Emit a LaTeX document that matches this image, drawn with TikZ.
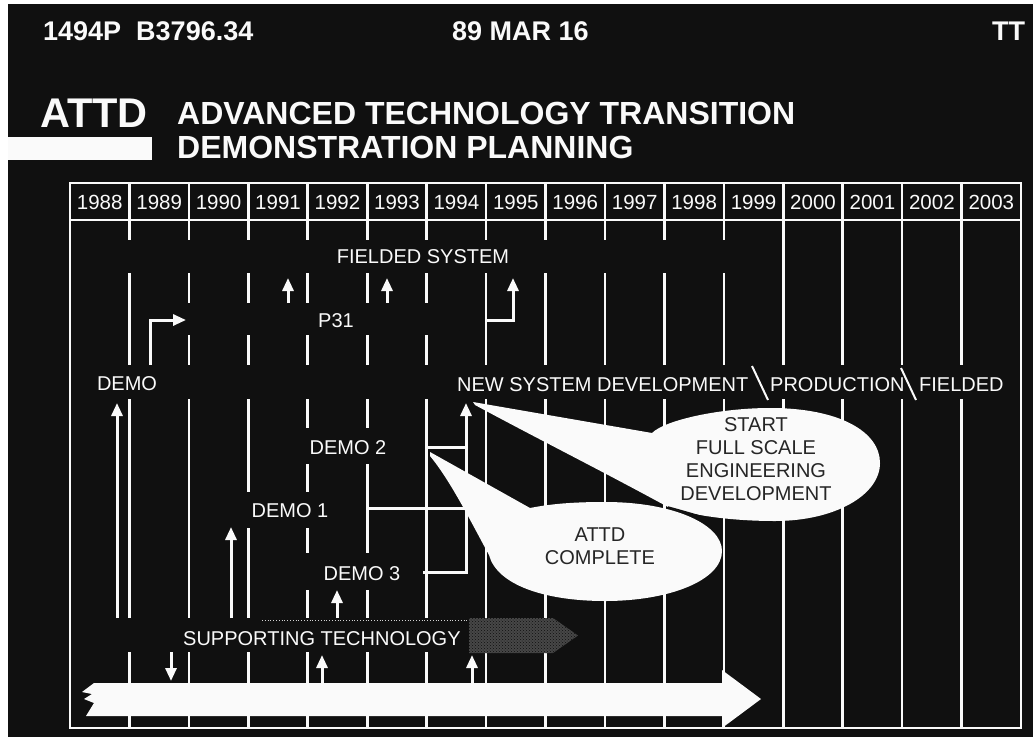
\documentclass[tikz,border=0pt]{standalone}
\usepackage{fontspec}
\setmainfont{Liberation Sans}
\usetikzlibrary{arrows.meta,patterns}
\definecolor{bg}{RGB}{16,16,16}
\definecolor{ink}{RGB}{250,250,250}
\begin{document}
\begin{tikzpicture}[x=1pt,y=-1pt,
  gridline/.style={ink,line width=2.6pt},
  mask/.style={fill=bg,draw=none},
  lbl/.style={text=ink,font=\fontsize{20}{24}\selectfont,inner sep=0pt,anchor=base},
  lblw/.style={lbl,anchor=base west},
  yr/.style={text=ink,font=\fontsize{20.5}{24}\selectfont,inner sep=0pt,anchor=base},
  hdr/.style={text=ink,font=\bfseries\fontsize{27}{30}\selectfont,inner sep=0pt,anchor=base west},
  ttl/.style={text=ink,font=\bfseries\fontsize{32}{35}\selectfont,inner sep=0pt,anchor=base west},
  arr/.style={ink,line width=3pt,-{Triangle[width=11pt,length=13pt]}},
  bar/.style={ink,line width=3pt},
  bubtxt/.style={text=black!85,font=\fontsize{20}{23}\selectfont,align=center,inner sep=0pt,anchor=north},
]
\useasboundingbox (0,0) rectangle (1033,737);
\fill[white] (0,0) rectangle (1033,737);
\fill[bg] (8,4) rectangle (1033,737);
\fill[ink] (8,137) rectangle (152,160);

% header texts
\node[hdr] (code) at (43,40) {1494P\ \ B3796.34};
\node[hdr] (date) at (452,40) {89 MAR 16};
\node[hdr] (tt) at (992,40) {TT};
\node[text=ink,font=\bfseries\fontsize{41.5}{45}\selectfont,inner sep=0pt,anchor=base west] (attd) at (40,127) {ATTD};
\node[ttl] (t1) at (177,124) {ADVANCED TECHNOLOGY TRANSITION};
\node[ttl] (t2) at (177,158) {DEMONSTRATION PLANNING};

% grid
\draw[gridline] (70,183) rectangle (1021,728);
\draw[gridline] (70,220) -- (1021,220);
\foreach \k in {1,...,15} \draw[gridline] ({70+59.44*\k},183) -- ({70+59.44*\k},728);
\foreach \y [count=\i from 0] in {1988,...,2003}
  \node[yr] (y\y) at ({70+59.44*(\i+0.5)},209) {\y};

% masks (bands behind labels)
\fill[mask] (72,240) rectangle (742,273);
\fill[mask] (140,303) rectangle (472,335);
\fill[mask] (72,365) rectangle (1019.5,399);
\fill[mask] (72,618) rectangle (470,652);
\fill[mask] (298,428) rectangle (396,464);
\fill[mask] (240,492) rectangle (335,528);
\fill[mask] (300,553) rectangle (410,590);

% labels
\node[lbl] (fs) at (423,263) {FIELDED SYSTEM};
\node[lbl] (p31) at (336,327) {P31};
\node[lbl] (demo) at (127,390) {DEMO};
\node[lblw] (nsd) at (457,391) {NEW SYSTEM DEVELOPMENT};
\node[lblw] (prod) at (770,391) {PRODUCTION};
\node[lblw] (fld) at (919,391) {FIELDED};
\draw[ink,line width=2pt] (752,366) -- (768,400);
\draw[ink,line width=2pt] (901,368) -- (916,400);
\node[lbl] (d2) at (348,454) {DEMO 2};
\node[lbl] (d1) at (290,517) {DEMO 1};
\node[lbl] (d3) at (362,580) {DEMO 3};
\node[lblw] (st) at (183,645) {SUPPORTING TECHNOLOGY};

% speckled arrow of supporting technology
\draw[gray!35,dotted,line width=0.8pt] (262,620) -- (470,620);
\fill[black!72] (469,618) -- (553,618) -- (578,635.5) -- (553,653) -- (469,653) -- cycle;
\fill[pattern=crosshatch dots,pattern color=bg] (469,618) -- (553,618) -- (578,635.5) -- (553,653) -- (469,653) -- cycle;

% arrows
\coordinate (a1s) at (117,618); \coordinate (a1e) at (117,403);
\coordinate (a2s) at (231,618); \coordinate (a2e) at (231,527);
\coordinate (a3s) at (337,618); \coordinate (a3e) at (337,590);
\coordinate (a4s) at (171,652); \coordinate (a4e) at (171,681);
\coordinate (a5s) at (322,684); \coordinate (a5e) at (322,655);
\coordinate (a6s) at (472,684); \coordinate (a6e) at (472,655);
\coordinate (a7s) at (150,365); \coordinate (a7e) at (186,320);
\coordinate (a8s) at (288,303); \coordinate (a8e) at (288,278);
\coordinate (a9s) at (387,303); \coordinate (a9e) at (387,278);
\coordinate (a10s) at (487,320); \coordinate (a10e) at (513,278);
\draw[arr] (a1s) -- (a1e);
\draw[arr] (a2s) -- (a2e);
\draw[arr] (a3s) -- (a3e);
\draw[arr] (a4s) -- (a4e);
\draw[arr] (a5s) -- (a5e);
\draw[arr] (a6s) -- (a6e);
\draw[arr] (a7s) |- (a7e);
\draw[arr] (a8s) -- (a8e);
\draw[arr] (a9s) -- (a9e);
\draw[arr] (a10s) -| (a10e);

% bracket of demos
\coordinate (bb) at (466,573.5); \coordinate (bt) at (466,403);
\coordinate (h2) at (427,447); \coordinate (h2e) at (466,447);
\coordinate (h1) at (367,508); \coordinate (h1e) at (466,508);
\coordinate (h3) at (423,572); \coordinate (h3e) at (466,572);
\draw[arr] (bb) -- (bt);
\draw[bar] (h2) -- (h2e);
\draw[bar] (h1) -- (h1e);
\draw[bar] (h3) -- (h3e);

% big white arrow
\fill[ink] (94,683) -- (722,683) -- (722,670) -- (761,699) -- (722,728) -- (722,716)
  -- (86,716) -- (94,703) -- (84,699) -- (92,694) -- (82,692) -- cycle;

% callouts
\fill[ink] (430,452) -- (530,508) .. controls (555,503) and (580,502) .. (605,502)
  .. controls (675,502) and (722,525) .. (722,551)
  .. controls (722,580) and (670,601) .. (605,601)
  .. controls (545,601) and (497,585) .. (489,555)
  .. controls (470,520) and (450,480) .. (430,456) -- cycle;
\fill[ink] (473,402) -- (652,433) .. controls (665,420) and (720,408) .. (770,408)
  .. controls (840,408) and (880,432) .. (880,463)
  .. controls (880,495) and (835,521) .. (775,521)
  .. controls (730,521) and (690,515) .. (668,507)
  .. controls (600,470) and (540,440) .. (475,405) -- cycle;
\draw[bg,line width=1.5pt] (668,507) .. controls (690,513) and (710,519) .. (722,523);
\node[bubtxt] (sfsed) at (756,417.5) {START\\FULL SCALE\\ENGINEERING\\DEVELOPMENT};
\node[bubtxt] (ac) at (600,527.5) {ATTD\\COMPLETE};
\end{tikzpicture}
\end{document}
